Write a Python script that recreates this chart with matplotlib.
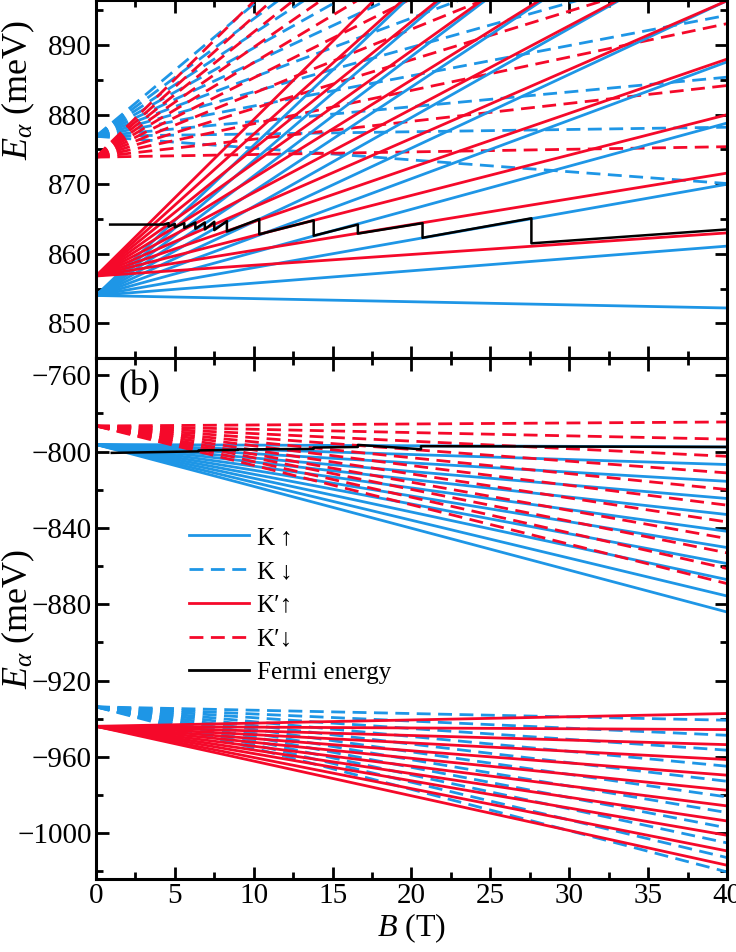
import matplotlib.pyplot as plt
from matplotlib.ticker import MultipleLocator

plt.rcParams['font.family'] = ['Liberation Serif', 'DejaVu Serif']
plt.rcParams['mathtext.fontset'] = 'custom'
plt.rcParams['mathtext.rm'] = 'Liberation Serif'
plt.rcParams['mathtext.it'] = 'Liberation Serif:italic'

BLUE = '#1e96e6'
RED = '#f5092a'

# field range of the level lines (T)
b_ends = [0, 40]

# conduction band (upper panel): energy at B=0 and at B=40 T (meV)
cb_k_up_start = 854.0
cb_k_up_end = [852.2, 861.1, 870.0, 878.8, 887.6, 896.4, 905.2, 914.0, 922.8, 931.6, 940.4]
cb_kp_up_start = 856.8
cb_kp_up_end = [863.0, 871.6, 880.0, 888.0, 896.4, 904.8, 913.2, 921.6, 930.0, 938.4, 946.8]
cb_k_dn_start = 876.9
cb_k_dn_end = [870.1, 878.2, 885.4, 894.3, 902.5, 910.9, 919.3, 927.7, 936.1, 944.5, 952.9]
cb_kp_dn_start = 873.9
cb_kp_dn_end = [875.4, 884.2, 893.1, 901.9, 910.7, 919.5, 928.3, 937.1, 945.9, 954.7, 963.5]

# valence band (lower panel)
vb_k_up_start = -796.3
vb_k_up_end = [-797.6, -806.8, -815.6, -824.6, -833.0, -841.8, -850.3, -858.7, -867.1, -875.7, -884.1]
vb_kp_dn_start = -786.6
vb_kp_dn_end = [-784.5, -793.5, -802.5, -811.2, -819.9, -828.1, -836.9, -845.6, -853.1, -861.3, -869.2]
vb_kp_up_start = -944.0
vb_kp_up_end = [-937.3, -945.7, -953.6, -961.4, -969.6, -977.5, -985.7, -993.6, -1001.1, -1009.3, -1016.8]
vb_k_dn_start = -933.8
vb_k_dn_end = [-940.8, -948.7, -956.5, -964.9, -972.8, -981.0, -989.2, -997.2, -1005.1, -1012.8, -1020.3]

# Fermi energy
ef_cb_b = [0.9, 4.3, 4.6, 4.6, 5.0, 5.0, 5.6, 5.6, 6.3, 6.3, 6.9, 6.9, 7.5, 7.5,
           8.3, 8.3, 10.35, 10.35, 13.8, 13.8, 16.6, 16.6, 20.7, 20.7, 27.6, 27.6, 40]
ef_cb_e = [864.2, 864.2, 864.4, 863.9, 864.3, 863.8, 864.4, 863.7, 864.5, 863.6, 864.5, 863.5, 864.6, 863.4,
           864.7, 863.2, 865.0, 862.8, 864.8, 862.6, 864.2, 862.9, 864.4, 862.3, 865.1, 861.5, 863.5]
ef_vb_b = [1.0, 6.5, 6.5, 9.0, 9.0, 13.8, 13.8, 16.6, 16.6, 20.6, 20.6, 40]
ef_vb_e = [-800.7, -799.9, -799.4, -799.1, -798.9, -798.6, -797.9, -797.6, -796.5, -798.8, -797.2, -797.6]

fig = plt.figure(figsize=(7.36, 9.52), dpi=100)
ax1 = fig.add_axes([0.1304, 0.6239, 0.8574, 0.3761])
ax2 = fig.add_axes([0.1304, 0.0767, 0.8574, 0.5472], sharex=ax1)

lw = 2.0
dash = (0, (5, 2.7))


def fan(ax, start, ends, color, ls):
    for e in ends:
        ax.plot(b_ends, [start, e], color=color, ls=ls, lw=lw)


fan(ax1, cb_k_dn_start, cb_k_dn_end, BLUE, dash)
fan(ax1, cb_kp_dn_start, cb_kp_dn_end, RED, dash)
fan(ax1, cb_k_up_start, cb_k_up_end, BLUE, '-')
fan(ax1, cb_kp_up_start, cb_kp_up_end, RED, '-')
ax1.plot(ef_cb_b, ef_cb_e, color='black', lw=1.8)

fan(ax2, vb_k_up_start, vb_k_up_end, BLUE, '-')
fan(ax2, vb_kp_dn_start, vb_kp_dn_end, RED, dash)
fan(ax2, vb_k_dn_start, vb_k_dn_end, BLUE, dash)
fan(ax2, vb_kp_up_start, vb_kp_up_end, RED, '-')
ax2.plot(ef_vb_b, ef_vb_e, color='black', lw=1.8)

# legend handles
ax2.plot([], [], color=BLUE, lw=lw, label='K\u2009\u2191')
ax2.plot([], [], color=BLUE, lw=lw, ls=dash, label='K\u2009\u2193')
ax2.plot([], [], color=RED, lw=lw, label='K\u2032\u2191')
ax2.plot([], [], color=RED, lw=lw, ls=dash, label='K\u2032\u2193')
ax2.plot([], [], color='black', lw=lw, label='Fermi energy')
h, l = ax2.get_legend_handles_labels()
ax2.legend(h[-5:], l[-5:], loc='upper left', bbox_to_anchor=(0.12, 0.71),
           frameon=False, fontsize=18, handlelength=2.4, handletextpad=0.3,
           labelspacing=0.45, borderpad=0.2)

ax1.set_xlim(0, 40)
ax1.set_ylim(845, 896.5)
ax2.set_ylim(-1024, -751)

for ax in (ax1, ax2):
    for s in ax.spines.values():
        s.set_linewidth(2.2)
    ax.tick_params(which='both', direction='in', top=True, right=True,
                   labelsize=21, width=2.0, pad=3)
    ax.tick_params(which='major', length=9)
    ax.tick_params(which='minor', length=5)
    ax.xaxis.set_major_locator(MultipleLocator(5))
    ax.xaxis.set_minor_locator(MultipleLocator(2.5))

ax1.yaxis.set_major_locator(MultipleLocator(10))
ax1.yaxis.set_minor_locator(MultipleLocator(5))
ax2.yaxis.set_major_locator(MultipleLocator(40))
ax2.yaxis.set_minor_locator(MultipleLocator(20))
ax1.tick_params(labelbottom=False)

ax1.set_ylabel(r'$E_\alpha$ (meV)', fontsize=26)
ax1.yaxis.set_label_coords(-0.094, 0.75)
ax2.set_ylabel(r'$E_\alpha$ (meV)', fontsize=26)
ax2.yaxis.set_label_coords(-0.094, 0.50)
ax2.set_xlabel(r'$B$ (T)', fontsize=23, labelpad=2)

ax2.text(0.035, 0.945, '(b)', transform=ax2.transAxes, fontsize=26,
         va='center', ha='left')

fig.savefig('out.png', dpi=100)
